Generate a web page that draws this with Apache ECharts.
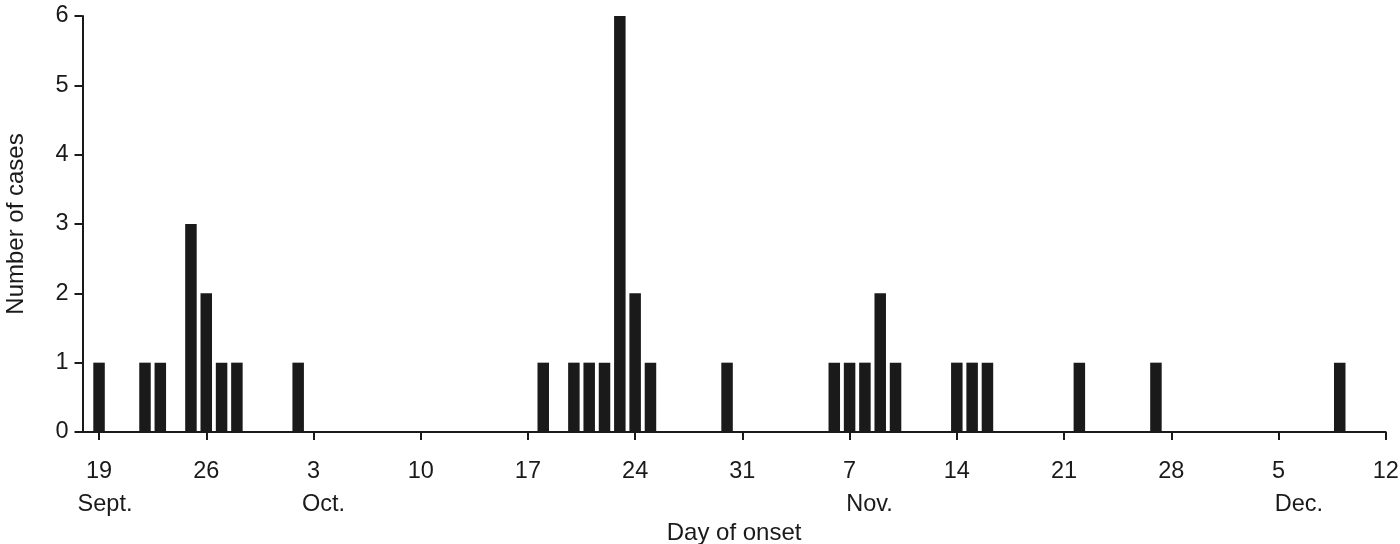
<!DOCTYPE html>
<html>
<head>
<meta charset="utf-8">
<script src="https://cdn.jsdelivr.net/npm/echarts@6/dist/echarts.min.js"></script>
<style>
html,body{margin:0;padding:0;background:#fff;}
#chart{width:1400px;height:544px;}
</style>
</head>
<body>
<div id="chart"></div>
<script>
// Day index counted from 19 Sept (0 = 19 Sept)
const days = [0, 3, 4, 6, 7, 8, 9, 13, 29, 31, 32, 33, 34, 35, 36, 41, 48, 49, 50, 51, 52, 56, 57, 58, 64, 69, 81];
const cases = [1, 1, 1, 3, 2, 1, 1, 1, 1, 1, 1, 1, 6, 2, 1, 1, 1, 1, 1, 2, 1, 1, 1, 1, 1, 1, 1];
const tickDays = [0, 7, 14, 21, 28, 35, 42, 49, 56, 63, 70, 77, 84];
const tickLabels = ['19', '26', '3', '10', '17', '24', '31', '7', '14', '21', '28', '5', '12'];
const monthLabels = ['Sept.', 'Oct.', 'Nov.', 'Dec.'];
const monthDays = [0.39, 14.65, 50.3, 78.33];
const yTicks = [0, 1, 2, 3, 4, 5, 6];

const FONT = 'Liberation Sans, Arial, Helvetica, sans-serif';
const INK = '#1a1a1a';

const chart = echarts.init(document.getElementById('chart'), null, {renderer: 'canvas'});
chart.setOption({
  animation: false,
  backgroundColor: '#ffffff',
  grid: {left: 82.5, right: 14.3, top: 16, bottom: 112, containLabel: false, outerBoundsMode: 'none'},
  xAxis: [{
    type: 'value',
    min: -1.08,
    max: 84,
    position: 'bottom',
    name: 'Day of onset',
    nameLocation: 'middle',
    nameGap: 89,
    nameTextStyle: {fontFamily: FONT, fontSize: 24, color: INK},
    axisLine: {show: true, onZero: false, lineStyle: {color: INK, width: 2}},
    axisTick: {show: true, length: 8, customValues: tickDays, lineStyle: {color: INK, width: 2}},
    axisLabel: {
      customValues: tickDays,
      margin: 27.5,
      fontFamily: FONT, fontSize: 23.5, color: INK,
      formatter: function (v) { return tickLabels[tickDays.indexOf(v)] ?? ''; }
    },
    splitLine: {show: false}
  }, {
    type: 'value',
    min: -1.08,
    max: 84,
    position: 'bottom',
    gridIndex: 0,
    axisLine: {show: false, onZero: false},
    axisTick: {show: false},
    splitLine: {show: false},
    axisLabel: {
      customValues: monthDays,
      margin: 61,
      fontFamily: FONT, fontSize: 23.5, color: INK,
      formatter: function (v) { return monthLabels[monthDays.indexOf(v)] ?? ''; }
    }
  }],
  yAxis: {
    type: 'value',
    min: 0,
    max: 6,
    interval: 1,
    name: 'Number of cases',
    nameLocation: 'middle',
    nameGap: 54,
    nameRotate: 90,
    nameTextStyle: {fontFamily: FONT, fontSize: 24, color: INK},
    axisLine: {show: true, onZero: false, lineStyle: {color: INK, width: 2}},
    axisTick: {show: true, length: 8, lineStyle: {color: INK, width: 2}},
    axisLabel: {
      margin: 14,
      fontFamily: FONT, fontSize: 23.5, color: INK,
      formatter: function (v) { return String(yTicks[yTicks.indexOf(v)]); }
    },
    splitLine: {show: false}
  },
  series: [{
    type: 'bar',
    xAxisIndex: 0,
    barWidth: 11.5,
    itemStyle: {color: INK},
    data: days.map((d, i) => [d, cases[i]])
  }]
});
</script>
</body>
</html>
